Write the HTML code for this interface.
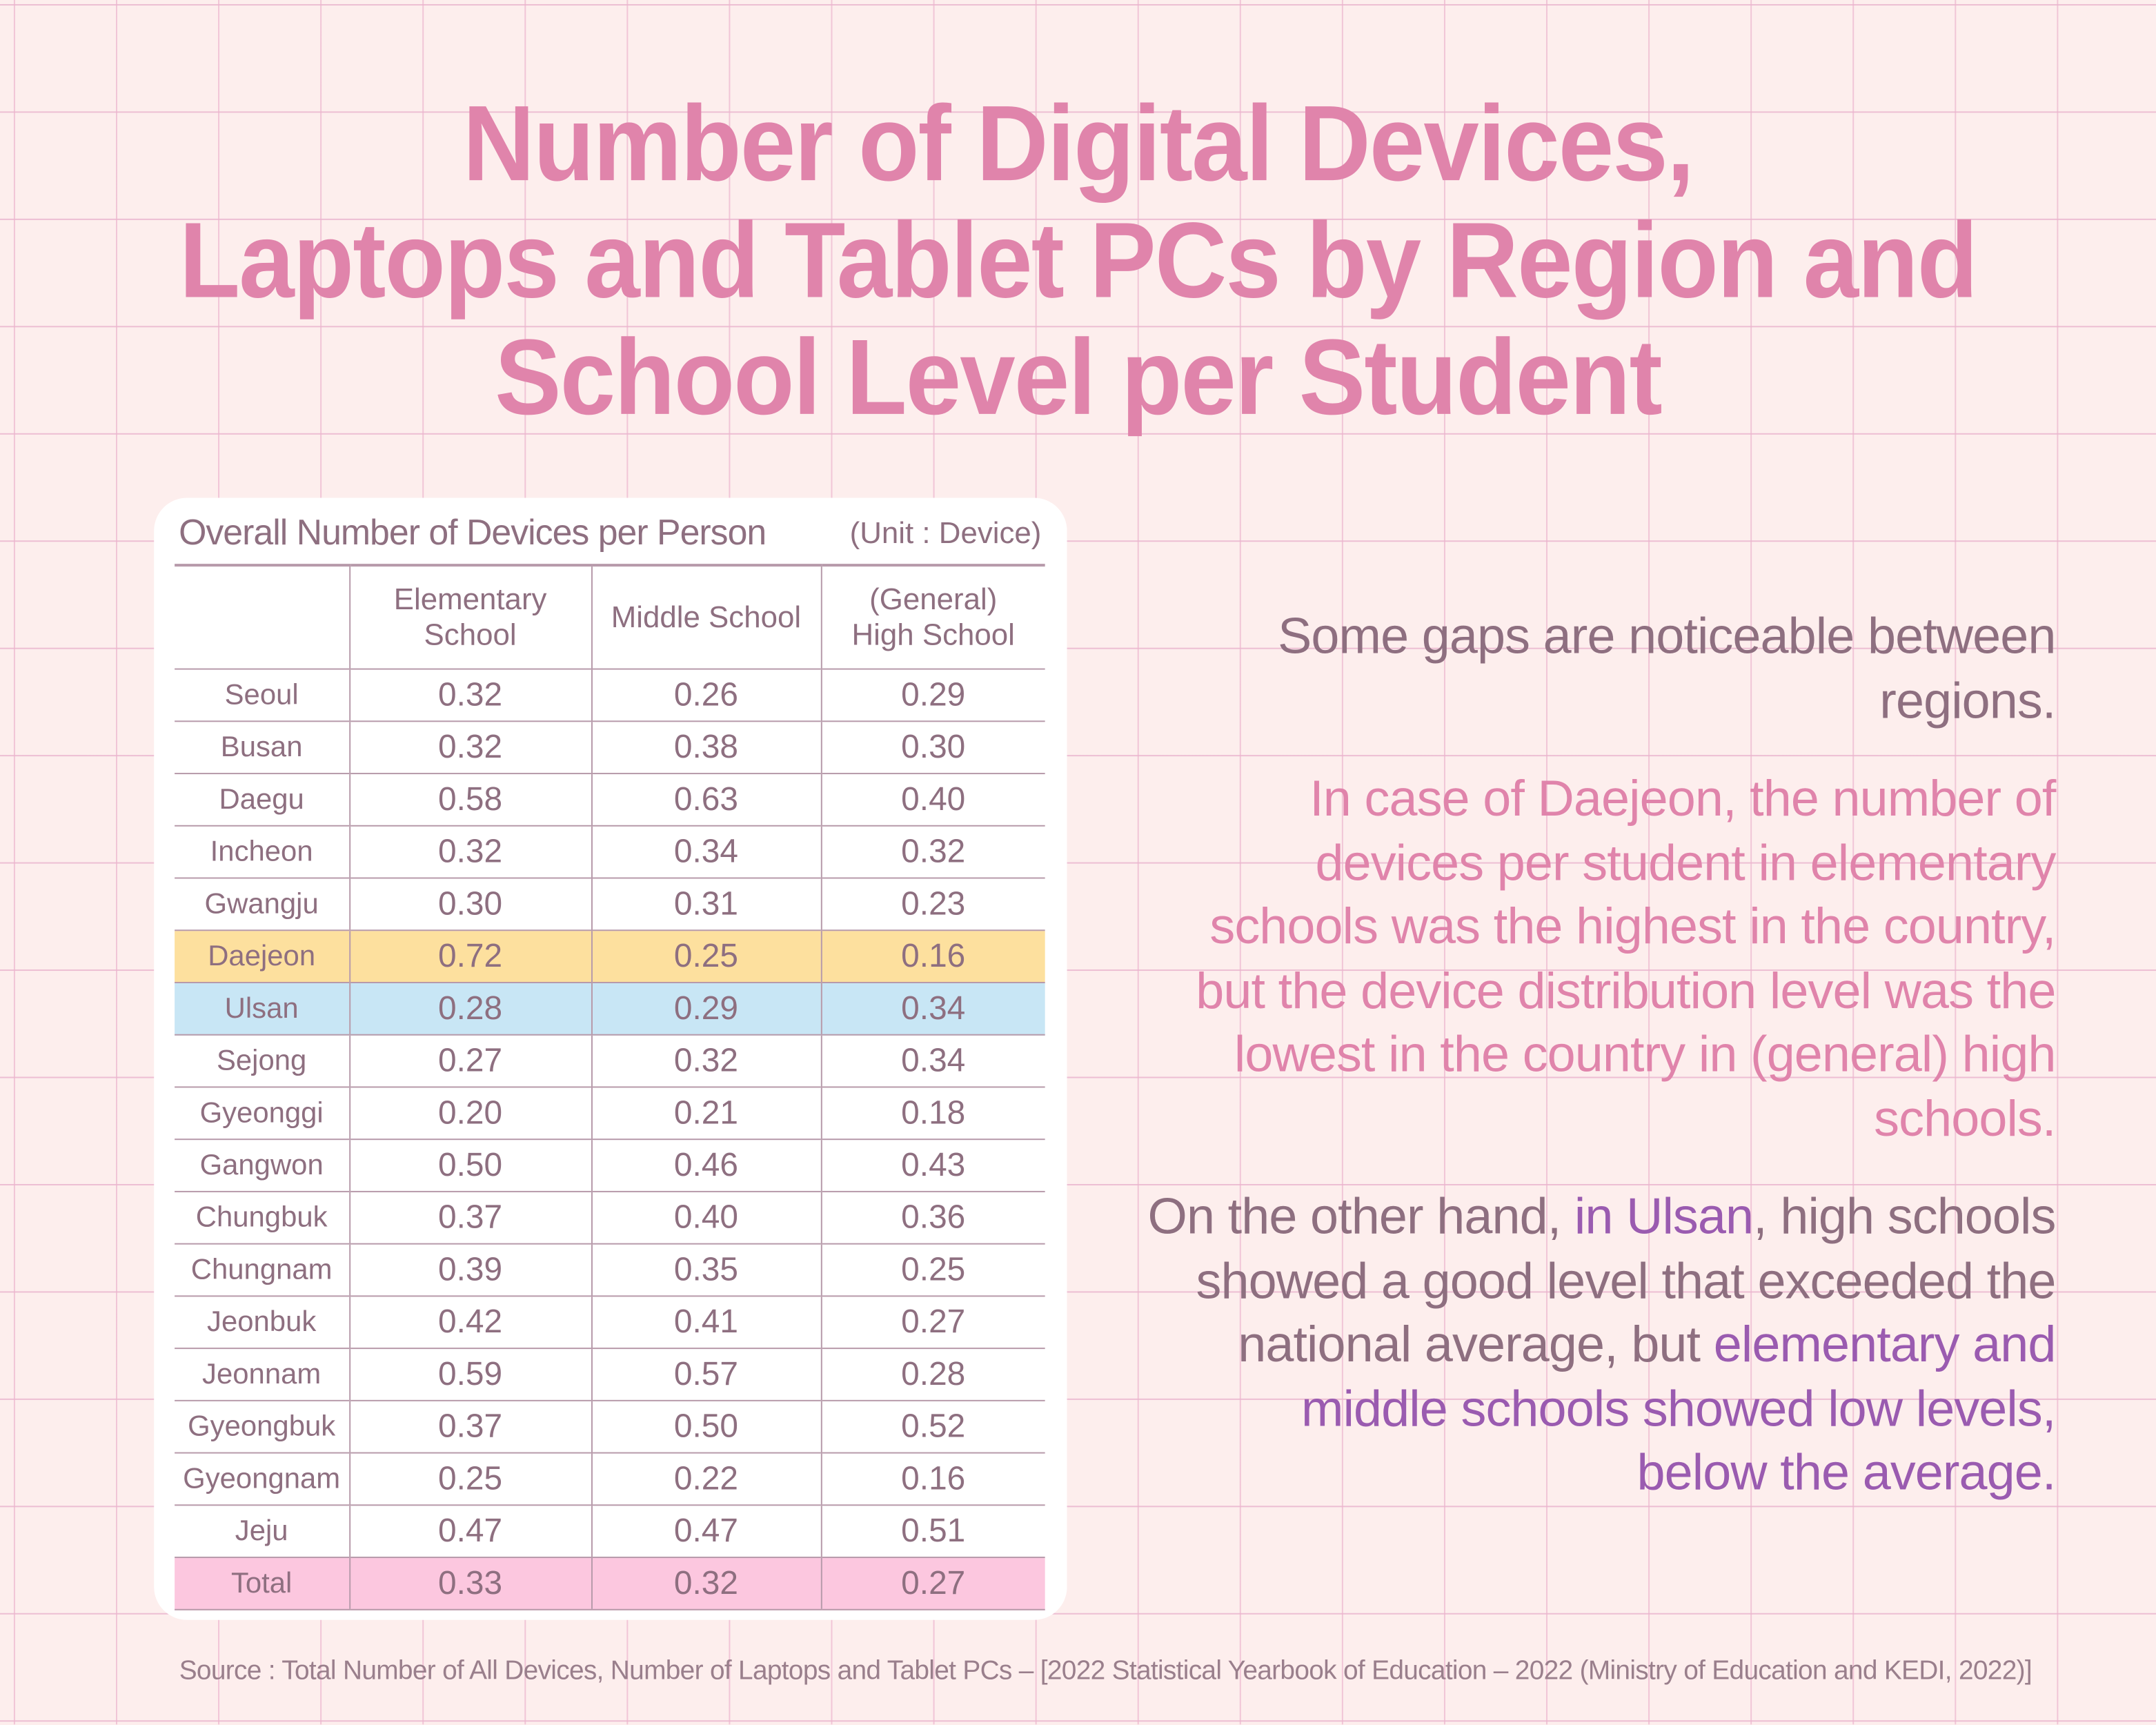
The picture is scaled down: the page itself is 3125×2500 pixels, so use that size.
<!DOCTYPE html>
<html><head><meta charset="utf-8"><style>
html,body{margin:0;padding:0;width:3125px;height:2500px;overflow:hidden;background:#fdeeed;}
#w{position:absolute;left:0;top:0;width:1568px;height:1254px;transform:scale(1.99298);transform-origin:0 0;font-family:"Liberation Sans",sans-serif;
background-color:#fdeeed;
background-image:linear-gradient(to right, rgba(236,180,205,.7) 1px, transparent 1px),linear-gradient(to bottom, rgba(230,170,200,.7) 1px, transparent 1px);
background-size:74.3px 78px;background-position:10px 3px;}
.t{position:absolute;left:0;width:1568px;text-align:center;color:#e084ab;font-weight:bold;font-size:78px;letter-spacing:-1px;line-height:85px;top:62px;transform:scaleX(0.93);}
.card{position:absolute;left:112px;top:362px;width:664px;height:816px;background:#fff;border-radius:24px;}
.cap{position:absolute;left:130px;top:372px;font-size:26px;color:#8e6f80;letter-spacing:-0.5px}
.unit{position:absolute;left:618px;top:375px;font-size:22px;color:#8e6f80}
table{position:absolute;left:127px;top:410px;border-collapse:collapse;color:#8e6f80;font-size:24px;}
td{border-top:1px solid #b79aaa;border-left:1px solid #b79aaa;text-align:center;height:37px;padding:0;}
tr td:first-child{border-left:none}
tr.h td{height:74px;font-size:22px;line-height:26px}
tr:first-child td{border-top:2px solid #b79aaa}
tr:last-child td{border-bottom:1px solid #b79aaa}
td.r{font-size:21px}
.dj td{background:#fde09e}.us td{background:#c8e6f5}.tot td{background:#fcc7df}
.side{position:absolute;right:73px;text-align:right;font-size:37px;line-height:46.5px;letter-spacing:-0.45px}
.src{position:absolute;left:0;width:1608px;text-align:center;top:1204px;font-size:19.5px;color:#9a7f8c;letter-spacing:-0.35px}
</style></head><body><div id="w">
<div class="t">Number of Digital Devices,<br>Laptops and Tablet PCs by Region and<br>School Level per Student</div>
<div class="card"></div>
<div class="cap">Overall Number of Devices per Person</div>
<div class="unit">(Unit : Device)</div>
<table>
<colgroup><col style="width:127px"><col style="width:176px"><col style="width:167px"><col style="width:163px"></colgroup>
<tr class="h"><td></td><td>Elementary<br>School</td><td>Middle School</td><td>(General)<br>High School</td></tr>
<tr><td class="r">Seoul</td><td>0.32</td><td>0.26</td><td>0.29</td></tr>
<tr><td class="r">Busan</td><td>0.32</td><td>0.38</td><td>0.30</td></tr>
<tr><td class="r">Daegu</td><td>0.58</td><td>0.63</td><td>0.40</td></tr>
<tr><td class="r">Incheon</td><td>0.32</td><td>0.34</td><td>0.32</td></tr>
<tr><td class="r">Gwangju</td><td>0.30</td><td>0.31</td><td>0.23</td></tr>
<tr class="dj"><td class="r">Daejeon</td><td>0.72</td><td>0.25</td><td>0.16</td></tr>
<tr class="us"><td class="r">Ulsan</td><td>0.28</td><td>0.29</td><td>0.34</td></tr>
<tr><td class="r">Sejong</td><td>0.27</td><td>0.32</td><td>0.34</td></tr>
<tr><td class="r">Gyeonggi</td><td>0.20</td><td>0.21</td><td>0.18</td></tr>
<tr><td class="r">Gangwon</td><td>0.50</td><td>0.46</td><td>0.43</td></tr>
<tr><td class="r">Chungbuk</td><td>0.37</td><td>0.40</td><td>0.36</td></tr>
<tr><td class="r">Chungnam</td><td>0.39</td><td>0.35</td><td>0.25</td></tr>
<tr><td class="r">Jeonbuk</td><td>0.42</td><td>0.41</td><td>0.27</td></tr>
<tr><td class="r">Jeonnam</td><td>0.59</td><td>0.57</td><td>0.28</td></tr>
<tr><td class="r">Gyeongbuk</td><td>0.37</td><td>0.50</td><td>0.52</td></tr>
<tr><td class="r">Gyeongnam</td><td>0.25</td><td>0.22</td><td>0.16</td></tr>
<tr><td class="r">Jeju</td><td>0.47</td><td>0.47</td><td>0.51</td></tr>
<tr class="tot"><td class="r">Total</td><td>0.33</td><td>0.32</td><td>0.27</td></tr>
</table>
<div class="side" style="top:440px;color:#8e6f80">Some gaps are noticeable between<br>regions.</div>
<div class="side" style="top:558px;color:#e084ab">In case of Daejeon, the number of<br>devices per student in elementary<br>schools was the highest in the country,<br>but the device distribution level was the<br>lowest in the country in (general) high<br>schools.</div>
<div class="side" style="top:862px;color:#8e6f80">On the other hand, <span style="color:#9a5bb0">in Ulsan</span>, high schools<br>showed a good level that exceeded the<br>national average, but <span style="color:#9a5bb0">elementary and<br>middle schools showed low levels,<br>below the average.</span></div>
<div class="src">Source : Total Number of All Devices, Number of Laptops and Tablet PCs – [2022 Statistical Yearbook of Education – 2022 (Ministry of Education and KEDI, 2022)]</div>
</div></body></html>
